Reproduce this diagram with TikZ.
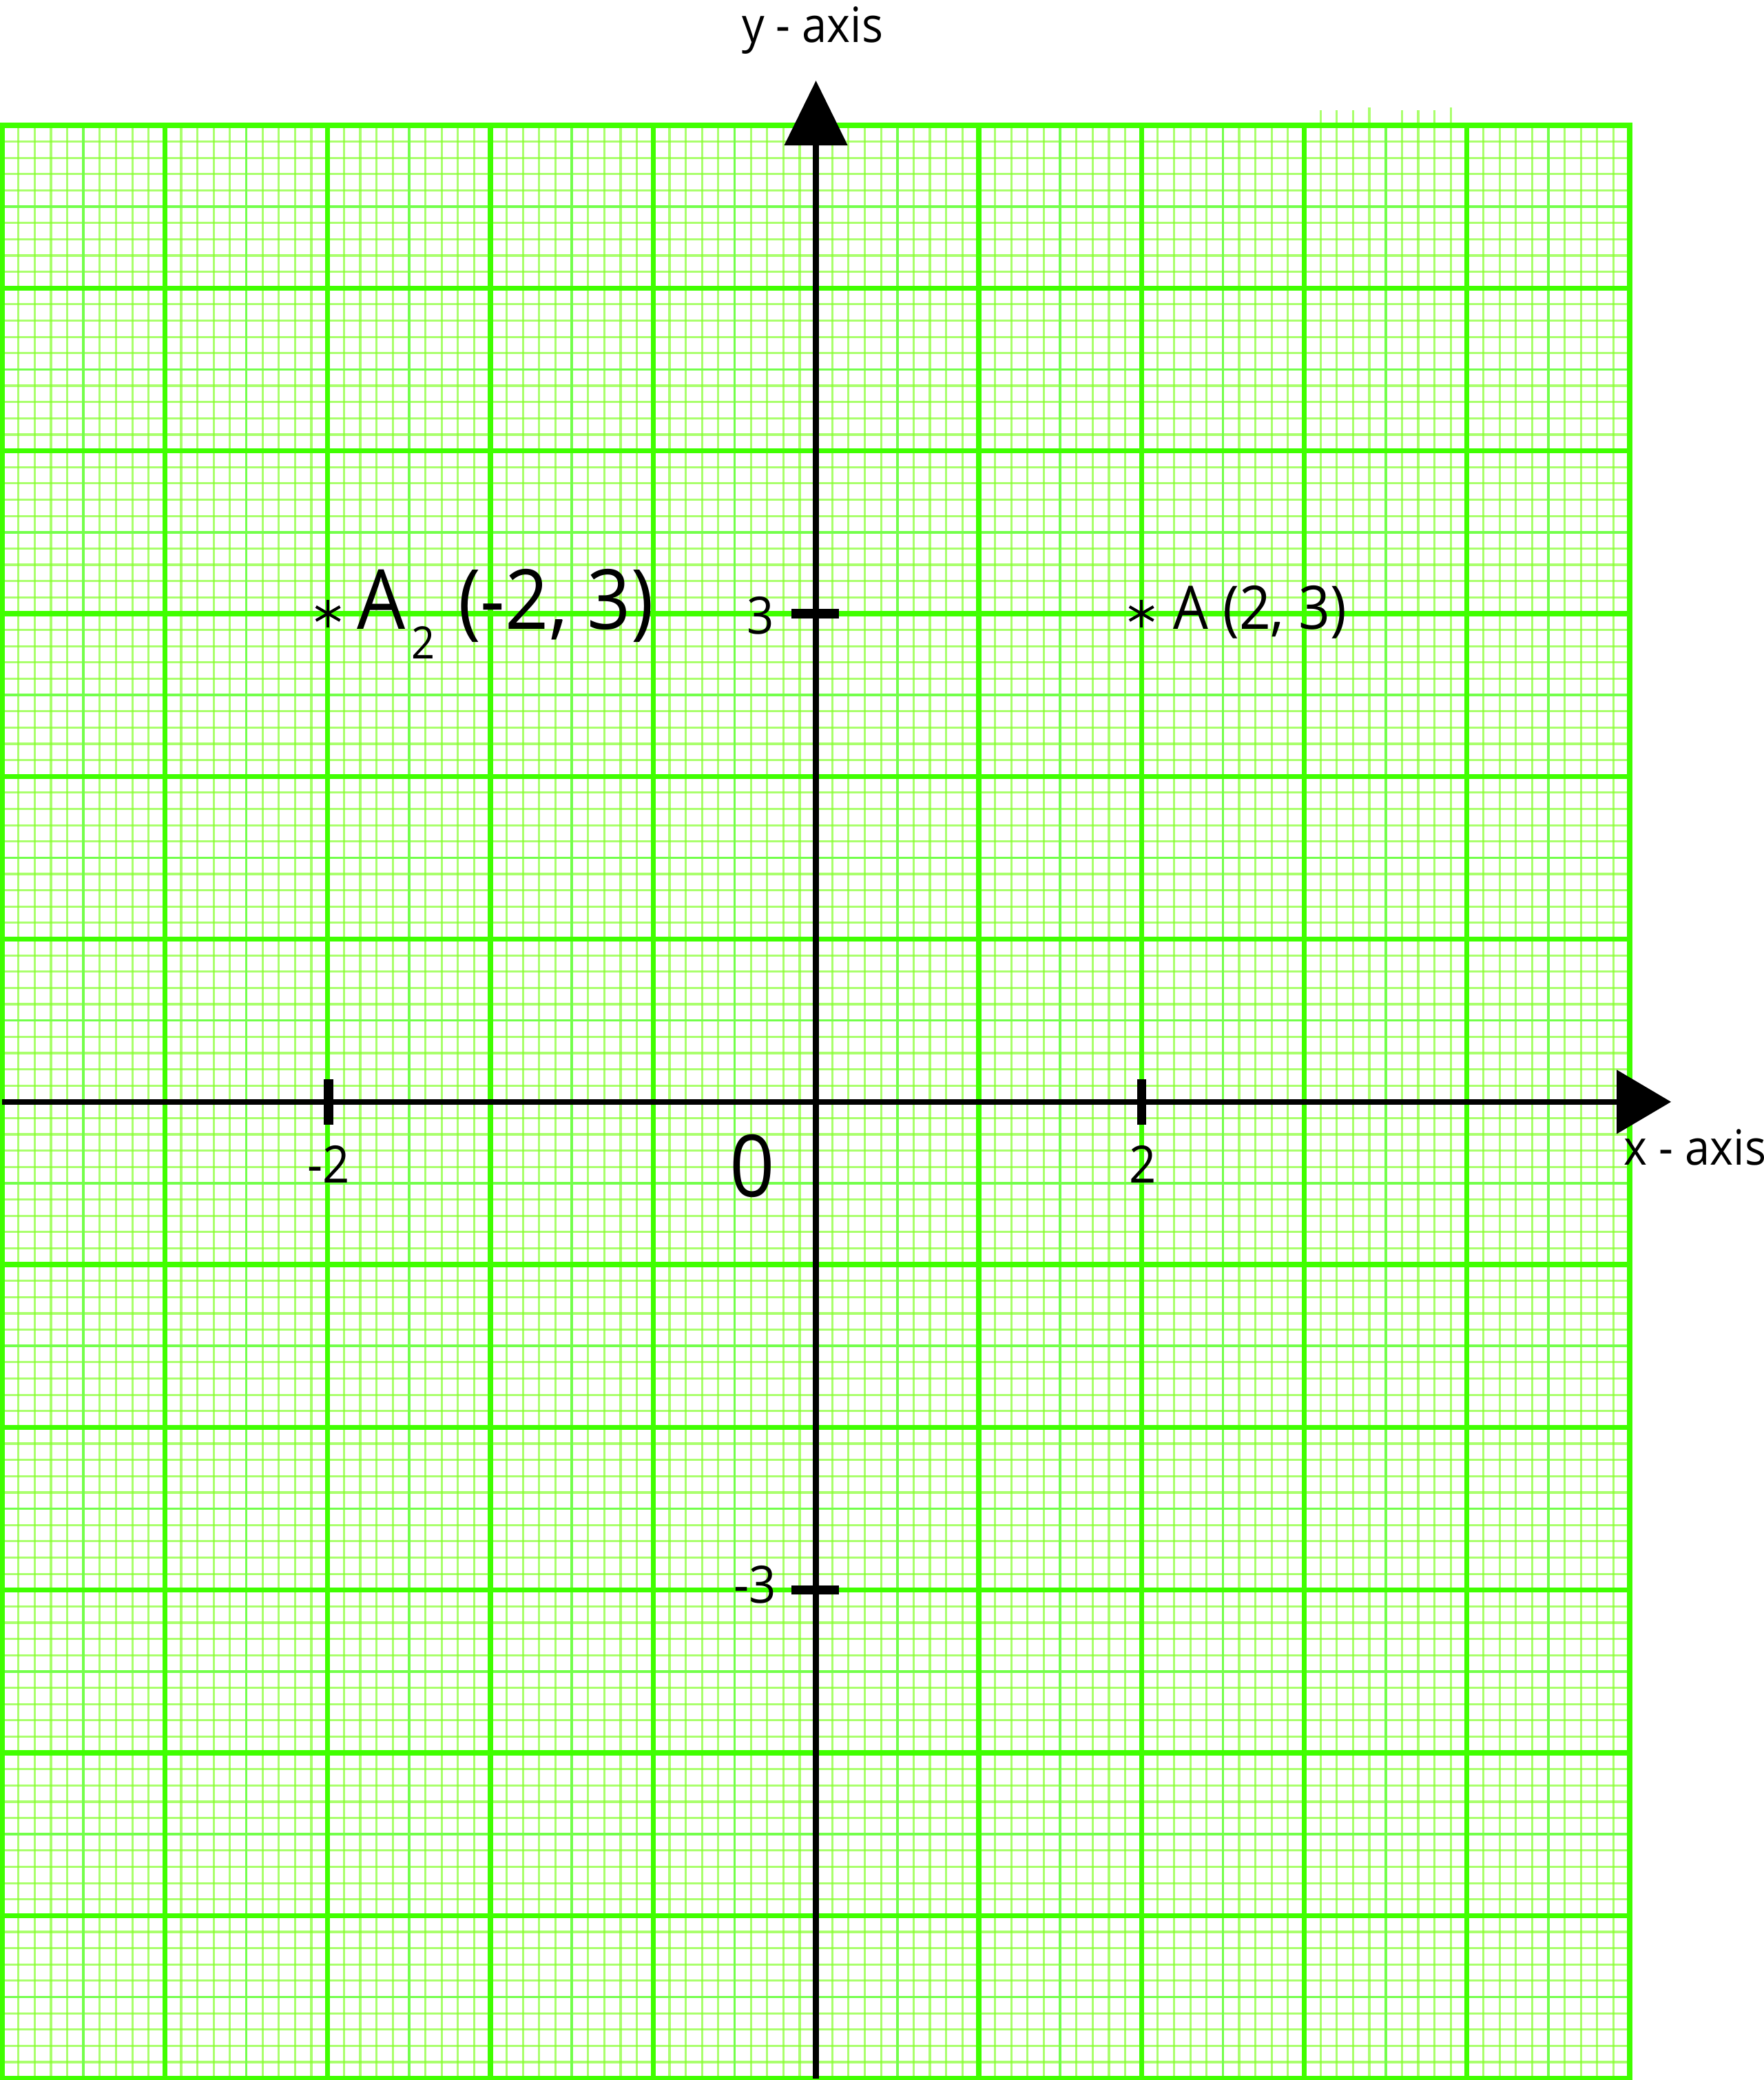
\documentclass[tikz,border=0pt]{standalone}
\usepackage{fontspec}
\setmainfont{Open Sans}[FakeStretch=0.92]
\usetikzlibrary{arrows.meta}
\definecolor{majorg}{RGB}{64,255,0}
\definecolor{midg}{RGB}{115,255,75}
\definecolor{minorg}{RGB}{130,255,40}
\begin{document}
\begin{tikzpicture}[
  minorline/.style={minorg, draw opacity=0.68, line width=0.38pt},
  midline/.style={midg, line width=0.44pt},
  majorline/.style={majorg, line width=0.88pt},
  axisline/.style={black, line width=1pt},
  tickmark/.style={black, line width=1.6pt},
  starline/.style={black, line width=0.5pt},
  lbl/.style={inner sep=0pt, font=\fontsize{9}{10}\selectfont},
  axlbl/.style={inner sep=0pt, font=\fontsize{8.5}{10}\selectfont},
  ptlbl/.style={inner sep=0pt, font=\fontsize{10.5}{12}\selectfont},
  bigptlbl/.style={inner sep=0pt, font=\fontsize{14.5}{16}\selectfont},
  sublbl/.style={inner sep=0pt, font=\fontsize{7.8}{9}\selectfont},
  originlbl/.style={inner sep=0pt, font=\fontsize{15}{17}\selectfont}
]
\useasboundingbox (-5.013,-6.010) rectangle (5.821,6.770);
% minor grid
\foreach \i in {-49,...,49} {\draw[minorline] (\i/10,-6) -- (\i/10,6);}
\foreach \j in {-59,...,59} {\draw[minorline] (-5,\j/10) -- (5,\j/10);}
% stray stubs above top edge
\foreach \i in {31,32,33,36,37,38} {\draw[minorline] (\i/10,6) -- (\i/10,6.093);}
\foreach \i in {34,39} {\draw[minorline] (\i/10,6) -- (\i/10,6.11);}
% half-unit lines
\foreach \i in {-4.5,-3.5,...,4.5} {\draw[midline] (\i,-6) -- (\i,6);}
\foreach \j in {-5.5,-4.5,...,5.5} {\draw[midline] (-5,\j) -- (5,\j);}
% major lines
\foreach \i in {-5,...,5} {\draw[majorline] (\i,-6) -- (\i,6);}
\foreach \j in {-6,...,6} {\draw[majorline] (-5,\j) -- (5,\j);}
\draw[majorline] (-5,-6) rectangle (5,6);
% axes
\coordinate (xs) at (-5,0);
\coordinate (xe) at (5.254,0);
\coordinate (ys) at (0,-6);
\coordinate (ye) at (0,6.275);
\draw[axisline, -{Triangle[length=0.334cm, width=0.385cm]}] (xs) -- (xe);
\draw[axisline, -{Triangle[length=0.398cm, width=0.381cm]}] (ys) -- (ye);
% ticks
\coordinate (tx1) at (-2.994,0);
\coordinate (tx2) at (2.0,0);
\coordinate (ty1) at (0,3);
\coordinate (ty2) at (0,-3);
\draw[tickmark] ([yshift=-0.14cm]tx1) -- ([yshift=0.14cm]tx1);
\draw[tickmark] ([yshift=-0.14cm]tx2) -- ([yshift=0.14cm]tx2);
\draw[tickmark] ([xshift=-0.15cm]ty1) -- ([xshift=0.14cm]ty1);
\draw[tickmark] ([xshift=-0.15cm]ty2) -- ([xshift=0.14cm]ty2);
% labels
\node[axlbl, anchor=base] (ylab) at (-0.02,6.508) {y - axis};
\node[axlbl, anchor=base west] (xlab) at (4.958,-0.390) {x - axis};
\node[lbl, anchor=base east] (l3) at (-0.252,2.876) {3};
\node[lbl, anchor=base east] (lm3) at (-0.239,-3.078) {-3};
\node[lbl, anchor=base] (lm2) at (-2.994,-0.50) {-2};
\node[lbl, anchor=base] (l2) at (2.01,-0.50) {2};
\node[originlbl, anchor=base] (l0) at (-0.391,-0.584) {0};
% points
\node[inner sep=0pt] (A) at (2.0,3.0) {};
\node[inner sep=0pt] (A2) at (-2.998,3.0) {};
\foreach \a in {90,30,150} {
  \draw[starline] (A) ++(\a:0.085) -- ++(\a+180:0.17);
  \draw[starline] (A2) ++(\a:0.085) -- ++(\a+180:0.17);
}
\node[ptlbl, anchor=base west] (Alab) at (2.19,2.906) {A (2, 3)};
\node[bigptlbl, anchor=base west] (A2a) at (-2.825,2.906) {A};
\node[sublbl, anchor=base west] (A2s) at (-2.49,2.724) {2};
\node[bigptlbl, anchor=base west] (A2c) at (-2.205,2.906) {(-2, 3)};
\end{tikzpicture}
\end{document}
